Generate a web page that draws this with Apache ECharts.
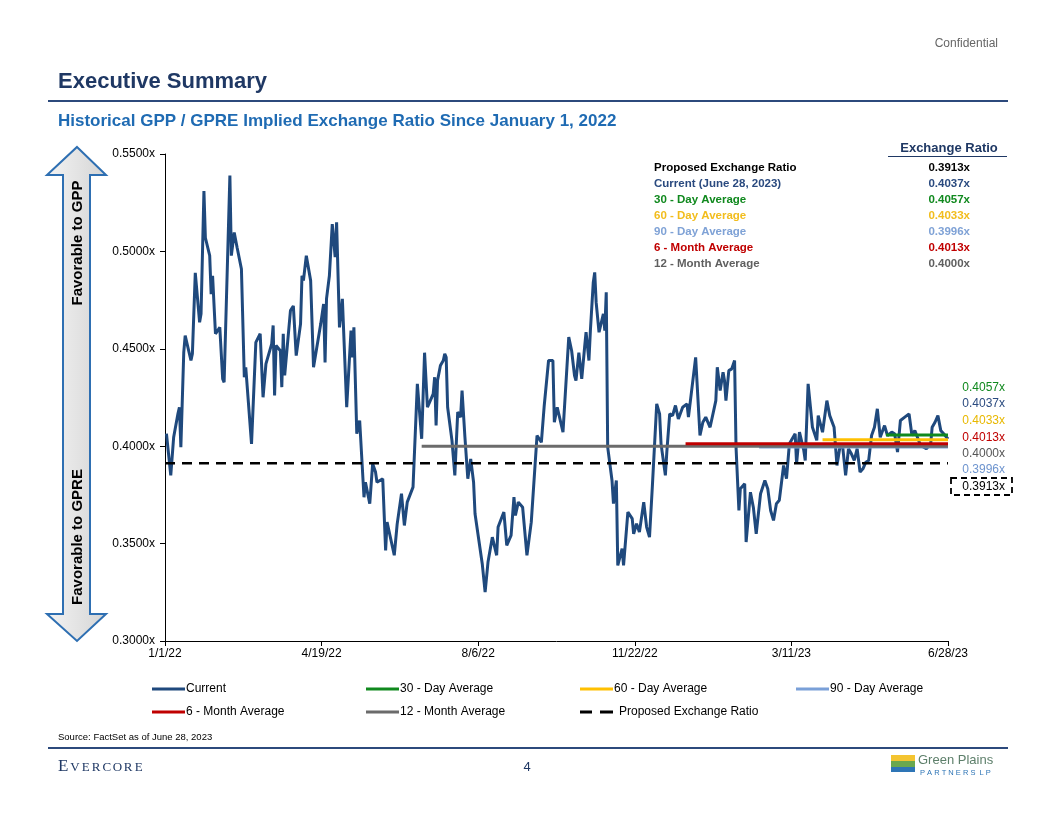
<!DOCTYPE html>
<html>
<head>
<meta charset="utf-8">
<script src="https://cdn.jsdelivr.net/npm/echarts@6/dist/echarts.min.js"></script>
<style>
html,body{margin:0;padding:0;background:#fff;}
#chart{width:1056px;height:816px;}
</style>
</head>
<body>
<div id="chart"></div>
<script>
// ---------------- DATA ----------------
// days since 1/1/22
const dayOffsets = [1,4,6,9,10,11,13,14,18,19,21,24,25,27,28,31,32,33,35,38,40,41,45,46,48,50,53,55,56,60,63,66,68,70,74,75,76,77,80,81,82,83,87,89,91,94,95,96,98,101,103,108,110,111,112,114,116,117,118,119,121,123,126,129,130,131,133,135,138,139,142,144,146,147,151,153,154,159,161,164,166,168,172,175,178,180,182,186,187,188,189,191,193,194,195,196,199,201,203,205,206,208,210,212,214,215,220,222,224,227,228,230,231,235,237,240,242,243,245,248,251,254,258,261,263,266,269,270,272,276,280,282,284,285,287,289,291,292,294,295,297,298,299,300,301,304,305,306,307,310,311,313,314,317,318,321,324,325,327,329,332,334,336,338,341,343,344,347,348,350,352,354,356,359,362,363,368,371,373,375,378,382,383,385,387,388,389,391,393,395,396,398,399,402,403,406,408,410,413,416,418,420,422,424,426,429,431,433,437,438,440,443,444,446,449,452,453,456,459,461,464,466,468,470,472,474,476,478,480,482,484,486,488,490,492,494,496,497,499,501,504,506,508,510,513,516,518,520,524,528,531,532,534,536,538,540,543];
const currentRatio = [0.4065,0.385,0.4046,0.4168,0.420,0.3995,0.448,0.4568,0.444,0.4475,0.489,0.4636,0.468,0.531,0.507,0.4978,0.478,0.4875,0.4577,0.461,0.4345,0.4328,0.539,0.4978,0.5097,0.502,0.491,0.4354,0.4405,0.4012,0.4533,0.4577,0.4251,0.4423,0.4525,0.462,0.426,0.4517,0.449,0.4303,0.4577,0.4363,0.4696,0.472,0.4465,0.4628,0.4875,0.485,0.4978,0.485,0.4405,0.4628,0.473,0.443,0.4756,0.4875,0.514,0.514,0.497,0.5149,0.461,0.4756,0.420,0.4593,0.4456,0.461,0.4064,0.4132,0.3738,0.3815,0.3705,0.391,0.3867,0.3815,0.3833,0.3465,0.361,0.344,0.360,0.3756,0.3593,0.3713,0.379,0.432,0.4038,0.448,0.420,0.4269,0.4354,0.4106,0.4337,0.4414,0.444,0.4474,0.4456,0.420,0.403,0.385,0.4175,0.4149,0.4286,0.4046,0.3833,0.3935,0.3815,0.3653,0.3397,0.3251,0.3405,0.3533,0.3542,0.344,0.3585,0.3662,0.3491,0.3542,0.3738,0.3645,0.3713,0.3687,0.344,0.361,0.4055,0.402,0.4209,0.444,0.444,0.4123,0.420,0.4072,0.456,0.449,0.4363,0.4337,0.448,0.4346,0.4508,0.4585,0.444,0.4593,0.4841,0.4892,0.4738,0.474,0.4585,0.4679,0.4593,0.479,0.3995,0.3824,0.3705,0.3824,0.3388,0.3474,0.3388,0.3662,0.3628,0.355,0.3602,0.3559,0.3713,0.3585,0.3533,0.3798,0.4217,0.4166,0.4012,0.385,0.397,0.4166,0.4157,0.4209,0.414,0.420,0.4217,0.4149,0.4456,0.4055,0.4123,0.4149,0.4097,0.4234,0.4405,0.4286,0.438,0.4337,0.4234,0.4388,0.4397,0.444,0.3995,0.367,0.3782,0.3807,0.3508,0.3764,0.3687,0.355,0.3756,0.3824,0.3782,0.367,0.3619,0.3705,0.3722,0.3901,0.3833,0.4012,0.4064,0.391,0.4072,0.3978,0.3927,0.432,0.4097,0.403,0.4157,0.4072,0.4234,0.4157,0.4097,0.3901,0.3995,0.3995,0.385,0.3987,0.3961,0.3927,0.3987,0.3867,0.3884,0.3918,0.3927,0.4055,0.4097,0.4192,0.4046,0.4055,0.4106,0.4055,0.4072,0.4064,0.397,0.4132,0.4149,0.4166,0.4055,0.4081,0.4004,0.3987,0.4012,0.4097,0.4123,0.4157,0.408,0.4064,0.4037];

const xTickLabels = ['1/1/22','4/19/22','8/6/22','11/22/22','3/11/23','6/28/23'];
const yMin = 0.30, yMax = 0.55, yStep = 0.05;
const lastDay = 543;

const avgNames = ['30 - Day Average','60 - Day Average','90 - Day Average','6 - Month Average','12 - Month Average'];
const avgValues = [0.4057,0.4033,0.3996,0.4013,0.4000];
const avgStartDays = [500,456,412,361,178];

const proposedName = 'Proposed Exchange Ratio';
const proposedValue = 0.3913;
const currentName = 'Current';
const currentValue = 0.4037;

const tableLabels = ['Proposed Exchange Ratio','Current (June 28, 2023)','30 - Day Average','60 - Day Average','90 - Day Average','6 - Month Average','12 - Month Average'];
const tableValues = [0.3913,0.4037,0.4057,0.4033,0.3996,0.4013,0.4000];

// ---------------- STYLE ----------------
const FONT = '"Liberation Sans", Arial, sans-serif';
const SERIF = '"Liberation Serif", serif';
const NAVY = '#1f3864';
const colCurrent = '#1f497d';
const avgColors = ['#10891e','#ffc000','#7aa0d8','#c00000','#6b6b6b'];
const tableColors = ['#000000','#2a4a7f','#10891e','#f2bd1d','#7fa2d6','#c00000','#5f5f5f'];

const chart = echarts.init(document.getElementById('chart'), null, {renderer:'canvas'});

const series = [];
series.push({
  name: currentName, type:'line', symbol:'none', z:2,
  data: dayOffsets.map((d,i)=>[d,currentRatio[i]]),
  lineStyle:{color:colCurrent,width:3}, itemStyle:{color:colCurrent}
});
// draw order: 90-day, 12-month, 6-month, 60-day, 30-day
const drawOrder = [2,4,3,1,0];
drawOrder.forEach(i=>{
  series.push({
    name: avgNames[i], type:'line', symbol:'none', z:3,
    data:[[avgStartDays[i],avgValues[i]],[lastDay,avgValues[i]]],
    lineStyle:{color:avgColors[i],width:3}, itemStyle:{color:avgColors[i]}
  });
});
series.push({
  name: proposedName, type:'line', symbol:'none', z:4,
  data:[[0,proposedValue],[lastDay,proposedValue]],
  lineStyle:{color:'#000',width:2.5,type:[10,7]}, itemStyle:{color:'#000'}
});

// legends (one per item, positioned)
const ICON_SOLID = 'path://M0,0h33v3h-33z';
const ICON_DASH = 'path://M0,0h12v3h-12z M20,0h13v3h-13z';
const legendPos = [
  [currentName,152,688,ICON_SOLID],[avgNames[0],366,688,ICON_SOLID],[avgNames[1],580,688,ICON_SOLID],[avgNames[2],796,688,ICON_SOLID],
  [avgNames[3],152,711,ICON_SOLID],[avgNames[4],366,711,ICON_SOLID],[proposedName,580,711,ICON_DASH]
];
const legends = legendPos.map(p=>({
  data:[{name:p[0],icon:p[3]}], left:p[1], top:p[2]-5, padding:0, itemWidth:33, itemHeight:3, itemGap:0,
  textStyle:{fontFamily:FONT,fontSize:12,color:'#000',padding:[0,0,0,p[3]===ICON_DASH?1:-4]},
  selectedMode:false
}));

// ---------------- GRAPHICS ----------------
const g = [];
function txt(x,y,text,opt){
  g.push({type:'text',x:x,y:y,style:Object.assign({text:text,fontFamily:FONT,fontSize:12,fill:'#000',textAlign:'left',textVerticalAlign:'middle'},opt||{})});
}
// header
txt(998,44,'Confidential',{fontSize:12,fill:'#666',textAlign:'right'});
txt(58,82,'Executive Summary',{fontSize:22,fontWeight:'bold',fill:NAVY});
g.push({type:'rect',shape:{x:48,y:100,width:960,height:2},style:{fill:'#2c4a7c'}});
txt(58,121,'Historical GPP / GPRE Implied Exchange Ratio Since January 1, 2022',{fontSize:17,fontWeight:'bold',fill:'#1f6bb3'});

// table
txt(949,148,'Exchange Ratio',{fontSize:13,fontWeight:'bold',fill:NAVY,textAlign:'center'});
g.push({type:'line',shape:{x1:888,y1:156.5,x2:1007,y2:156.5},style:{stroke:NAVY,lineWidth:1}});
tableLabels.forEach((l,i)=>{
  const y = 168 + i*16;
  txt(654,y,l,{fontSize:11.5,fontWeight:'bold',fill:tableColors[i]});
  txt(970,y,tableValues[i].toFixed(4)+'x',{fontSize:11.5,fontWeight:'bold',fill:tableColors[i],textAlign:'right'});
});

// right-side end labels
const endLabels = [
  [avgValues[0],avgColors[0],388],[currentValue,'#2a4a7f',404],[avgValues[1],'#e8b800',421],
  [avgValues[3],avgColors[3],438],[avgValues[4],'#555',454],[avgValues[2],'#6f95cf',470],[proposedValue,'#000',487]
];
endLabels.forEach(e=>{
  txt(1005,e[2],e[0].toFixed(4)+'x',{fontSize:12,fill:e[1],textAlign:'right'});
});
g.push({type:'rect',shape:{x:951,y:478,width:61,height:17},style:{fill:'none',stroke:'#000',lineWidth:1.8,lineDash:[6,4]}});

// left double arrow
g.push({type:'polygon',shape:{points:[[77,147],[106,175],[90,175],[90,614],[106,614],[77,641],[47,614],[63,614],[63,175],[47,175]]},
  style:{fill:new echarts.graphic.LinearGradient(0,0,1,0,[{offset:0,color:'#f3f3f3'},{offset:0.5,color:'#e4e4e4'},{offset:1,color:'#d4d4d4'}]),stroke:'#2e6fb2',lineWidth:2}});
g.push({type:'text',x:78,y:243,rotation:Math.PI/2,style:{text:'Favorable to GPP',fontFamily:FONT,fontSize:15,fontWeight:'bold',fill:'#000',textAlign:'center',textVerticalAlign:'middle'}});
g.push({type:'text',x:78,y:537,rotation:Math.PI/2,style:{text:'Favorable to GPRE',fontFamily:FONT,fontSize:15,fontWeight:'bold',fill:'#000',textAlign:'center',textVerticalAlign:'middle'}});

// footer
txt(58,737,'Source: FactSet as of June 28, 2023',{fontSize:9.5});
g.push({type:'rect',shape:{x:48,y:747,width:960,height:2},style:{fill:'#2c4a7c'}});
txt(58,767,'E',{fontSize:17,fontFamily:SERIF,fill:NAVY});
'VERCORE'.split('').forEach((ch,i)=>{
  txt(75 + i*10.6,768,ch,{fontSize:13,fontFamily:SERIF,fill:NAVY,textAlign:'center'});
});
txt(527,767,'4',{fontSize:13,fill:NAVY,textAlign:'center'});
// Green Plains logo
g.push({type:'rect',shape:{x:891,y:755,width:24,height:6},style:{fill:'#f4c430'}});
g.push({type:'rect',shape:{x:891,y:761,width:24,height:6},style:{fill:'#6aa84f'}});
g.push({type:'rect',shape:{x:891,y:767,width:24,height:5},style:{fill:'#2e75b6'}});
txt(918,760,'Green Plains',{fontSize:13,fill:'#5d7f6a'});
txt(920,773,'P A R T N E R S  L P',{fontSize:7.5,fill:'#2e75b6'});

chart.setOption({
  animation:false,
  backgroundColor:'#fff',
  legend: legends,
  grid:{left:165,right:108,top:154,bottom:175,containLabel:false},
  xAxis:{
    type:'value', min:0, max:lastDay, interval:lastDay/5,
    axisLine:{lineStyle:{color:'#000',width:1}},
    axisTick:{show:true,length:5,lineStyle:{color:'#000'}},
    splitLine:{show:false},
    axisLabel:{fontFamily:FONT,fontSize:12,color:'#000',margin:7,showMaxLabel:true,showMinLabel:true,
      formatter:v=>xTickLabels[Math.round(v/(lastDay/5))]}
  },
  yAxis:{
    type:'value', min:yMin, max:yMax, interval:yStep,
    axisLine:{show:true,lineStyle:{color:'#000',width:1}},
    axisTick:{show:true,length:5,lineStyle:{color:'#000'}},
    splitLine:{show:false},
    axisLabel:{fontFamily:FONT,fontSize:12,color:'#000',margin:10,formatter:v=>v.toFixed(4)+'x'}
  },
  series: series,
  graphic: g
});
</script>
</body>
</html>
